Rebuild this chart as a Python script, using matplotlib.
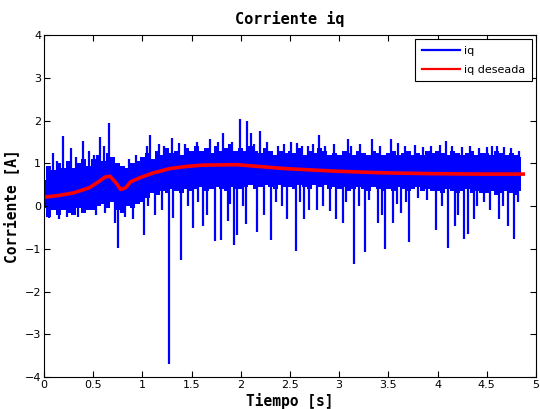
import numpy as np
import matplotlib
matplotlib.use('Agg')
import matplotlib.pyplot as plt

# --- data ---
# dense part of the measured iq signal: upper / lower edge every 0.05 s
t_band = np.round(np.arange(0, 4.851, 0.05), 3)
iq_upper = [
    0.6, 0.95, 0.85, 1.0, 0.9, 1.05, 0.9, 1.0, 1.1, 0.95,
    1.1, 1.2, 1.05, 1.25, 1.15, 1.0, 0.95, 0.9, 1.0, 1.05,
    1.15, 1.25, 1.1, 1.3, 1.2, 1.35, 1.25, 1.3, 1.2, 1.35,
    1.3, 1.4, 1.3, 1.35, 1.25, 1.4, 1.3, 1.35, 1.45, 1.3,
    1.35, 1.3, 1.4, 1.3, 1.25, 1.35, 1.3, 1.2, 1.3, 1.25,
    1.3, 1.25, 1.35, 1.2, 1.3, 1.25, 1.35, 1.3, 1.2, 1.25,
    1.2, 1.3, 1.25, 1.2, 1.3, 1.25, 1.2, 1.3, 1.25, 1.2,
    1.25, 1.3, 1.2, 1.25, 1.3, 1.2, 1.25, 1.2, 1.3, 1.25,
    1.3, 1.25, 1.2, 1.3, 1.25, 1.2, 1.25, 1.3, 1.2, 1.25,
    1.25, 1.2, 1.3, 1.25, 1.2, 1.25, 1.2, 1.15,
]
iq_lower = [
    -0.05, -0.25, -0.1, -0.2, -0.1, -0.15, -0.2, -0.05, -0.15, -0.1,
    -0.1, 0.0, 0.05, -0.05, 0.1, -0.1, -0.15, 0.0, -0.05, 0.05,
    0.1, 0.2, 0.3, 0.25, 0.35, 0.3, 0.4, 0.35, 0.3, 0.4,
    0.35, 0.4, 0.45, 0.35, 0.4, 0.45, 0.4, 0.35, 0.45, 0.4,
    0.4, 0.45, 0.5, 0.4, 0.45, 0.5, 0.45, 0.4, 0.5, 0.45,
    0.45, 0.4, 0.5, 0.45, 0.4, 0.5, 0.45, 0.5, 0.4, 0.45,
    0.4, 0.45, 0.35, 0.4, 0.45, 0.4, 0.35, 0.45, 0.4, 0.35,
    0.4, 0.35, 0.45, 0.4, 0.35, 0.4, 0.45, 0.35, 0.4, 0.35,
    0.35, 0.3, 0.4, 0.35, 0.3, 0.35, 0.4, 0.3, 0.35, 0.3,
    0.3, 0.35, 0.25, 0.3, 0.35, 0.3, 0.25, 0.35,
]

# isolated spikes of the iq signal (time [s], peak value [A])
t_spike = [0.05, 0.09, 0.19, 0.27, 0.40, 0.46, 0.57, 0.61, 0.66, 0.72, 0.75,
           1.02, 1.08, 1.13, 1.27, 1.30, 1.31, 1.37, 1.39, 1.51, 1.62, 1.69,
           1.74, 1.80, 1.82, 1.87, 1.93, 1.96, 1.99, 2.05, 2.06, 2.10, 2.16,
           2.20, 2.31, 2.47, 2.51, 2.56, 2.57, 2.64, 2.73, 2.77, 2.80, 2.91,
           2.97, 3.04, 3.09, 3.15, 3.26, 3.33, 3.39, 3.47, 3.53, 3.55, 3.60,
           3.63, 3.71, 3.98, 4.02, 4.09, 4.11, 4.18, 4.27, 4.31, 4.37, 4.42,
           4.60, 4.62, 4.72, 4.78]
iq_spike = [-0.28, 1.25, 1.64, 1.36, 1.52, 1.3, 1.61, 1.4, 1.95, -0.4, -0.97,
            -0.68, 1.66, -0.2, -3.7, 1.6, -0.27, 1.48, -1.25, -0.5, -0.47, 1.56,
            -0.82, -0.8, 1.72, -0.35, -0.9, -0.68, 2.05, -0.41, 2.0, 1.71, -0.6,
            1.75, -0.8, -0.3, 1.5, -1.05, 1.48, -0.31, 1.45, -0.1, 1.66, -0.12,
            -0.29, -0.39, 1.56, -1.35, -1.07, 1.56, -0.4, -1.01, 1.56, -0.4, 1.48,
            -0.17, -0.83, -0.56, 1.44, 1.52, -0.99, -0.47, -0.76, -0.66, -0.31, 1.35,
            1.4, -0.31, -0.47, -0.76]

# smaller spikes along the edges of the dense band
t_small = [0.13, 0.33, 0.51, 0.70, 0.86, 0.93, 1.05, 1.17, 1.22, 1.43, 1.55,
           1.77, 1.91, 2.13, 2.27, 2.38, 2.44, 2.62, 2.68, 2.86, 2.95, 3.12,
           3.21, 3.42, 3.67, 3.77, 3.85, 3.93, 4.15, 4.25, 4.33, 4.50, 4.55,
           4.68, 4.75, 4.83,
           0.15, 0.23, 0.35, 0.53, 0.62, 0.82, 0.90, 1.06, 1.20, 1.46, 1.57,
           1.66, 1.89, 2.02, 2.24, 2.36, 2.42, 2.60, 2.69, 2.84, 3.07, 3.20,
           3.30, 3.44, 3.59, 3.68, 3.80, 3.89, 4.05, 4.21, 4.40, 4.47, 4.53,
           4.67, 4.82]
iq_small = [1.05, 1.15, 1.2, 1.15, 1.1, 1.2, 1.4, 1.45, 1.4, 1.45, 1.5,
            1.5, 1.5, 1.45, 1.5, 1.4, 1.45, 1.4, 1.4, 1.4, 1.45, 1.4,
            1.45, 1.4, 1.4, 1.42, 1.38, 1.4, 1.4, 1.38, 1.4, 1.38, 1.4,
            1.38, 1.35, 1.3,
            -0.3, -0.25, -0.25, -0.2, -0.15, -0.25, -0.3, 0.0, -0.1, 0.0, 0.1,
            -0.2, 0.05, 0.0, -0.2, 0.1, 0.0, 0.1, -0.1, 0.0, 0.1, 0.0,
            0.15, -0.2, 0.05, 0.1, 0.2, 0.15, 0.0, -0.2, 0.0, 0.1, -0.1,
            0.0, 0.1]

# desired current (red)
t_ref = [0, 0.15, 0.3, 0.46, 0.56, 0.62, 0.67, 0.73, 0.78, 0.83, 0.88, 0.97,
         1.1, 1.28, 1.45, 1.62, 1.96, 2.44, 2.94, 3.43, 3.93, 4.4, 4.87]
iq_ref = [0.21, 0.25, 0.31, 0.43, 0.58, 0.68, 0.70, 0.55, 0.39, 0.43, 0.57, 0.66,
          0.77, 0.88, 0.93, 0.96, 0.97, 0.88, 0.82, 0.78, 0.76, 0.75, 0.75]

xticks = [0, 0.5, 1, 1.5, 2, 2.5, 3, 3.5, 4, 4.5, 5]
xticklabels = ['0', '0.5', '1', '1.5', '2', '2.5', '3', '3.5', '4', '4.5', '5']
yticks = [-4, -3, -2, -1, 0, 1, 2, 3, 4]

# --- figure ---
blue = '#0000ff'
fig = plt.figure(figsize=(5.4, 4.09), dpi=100)
ax = fig.add_axes([0.0815, 0.078, 0.911, 0.836])

ax.fill_between(t_band, iq_lower, iq_upper, step='mid', color=blue, lw=0)
ax.vlines(t_spike, np.interp(t_spike, t_ref, iq_ref), iq_spike, color=blue, lw=1.6)
ax.vlines(t_small, np.interp(t_small, t_ref, iq_ref), iq_small, color=blue, lw=1.6)
ax.plot([], [], color=blue, lw=1.5, label='iq')
ax.plot(t_ref, iq_ref, color='#ff0000', lw=2.6, label='iq deseada')

ax.set_xlim(0, 5)
ax.set_ylim(-4, 4)
ax.set_xticks(xticks)
ax.set_xticklabels(xticklabels)
ax.set_yticks(yticks)
ax.tick_params(direction='in', top=True, right=True, length=4, width=0.8,
               labelsize=8, pad=2)
for s in ax.spines.values():
    s.set_linewidth(0.8)

mono = 'DejaVu Sans Mono'
ax.set_title('Corriente iq', fontfamily=mono, fontweight='bold', fontsize=11, pad=8)
ax.set_xlabel('Tiempo [s]', fontfamily=mono, fontweight='bold', fontsize=10.5, labelpad=2)
ax.set_ylabel('Corriente [A]', fontfamily=mono, fontweight='bold', fontsize=10.5, labelpad=4)

leg = ax.legend(loc='upper right', fontsize=8, fancybox=False, framealpha=1,
                edgecolor='black', handlelength=3.4, handletextpad=0.4,
                borderaxespad=0.35, borderpad=0.6, labelspacing=0.8)
leg.get_frame().set_linewidth(0.8)
for h in leg.get_lines():
    h.set_linewidth(1.6)

fig.savefig('out.png', dpi=100)
